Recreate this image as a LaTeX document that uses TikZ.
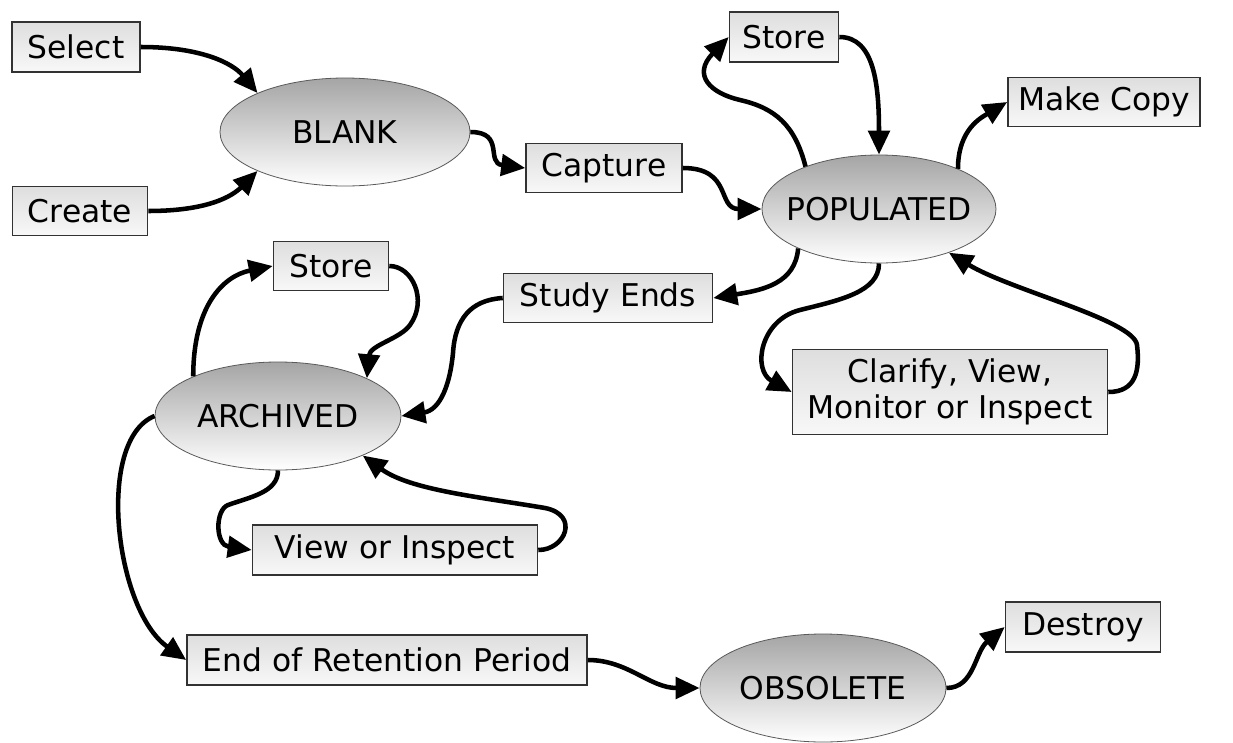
\documentclass[tikz,border=0pt]{standalone}
\usepackage{fontspec}
\setmainfont{DejaVu Sans}
\usetikzlibrary{arrows.meta,shapes.geometric}
\definecolor{boxline}{RGB}{50,50,50}
\definecolor{ovalline}{RGB}{90,90,90}
\definecolor{ovaltop}{RGB}{165,165,165}
\definecolor{boxtop}{RGB}{222,222,222}
\definecolor{boxbot}{RGB}{248,248,248}

\begin{document}
\begin{tikzpicture}[x=0.75pt,y=-0.75pt,
  every node/.style={font=\fontsize{23.5}{27}\selectfont},
  stepbox/.style={draw=boxline, line width=1.2pt, top color=boxtop, bottom color=boxbot,
    inner sep=0pt, align=center},
  state/.style={ellipse, draw=ovalline, line width=0.6pt, top color=ovaltop, bottom color=white,
    inner sep=0pt, minimum width=184.5pt, minimum height=81pt},
  arr/.style={line width=3.4pt, -{Triangle[length=18pt,width=16pt]}},
]
\fill[white] (0,0) rectangle (1233,743);
\useasboundingbox (0,0) rectangle (1233,743);

% states
\node[state, minimum width=187.5pt] (blank) at (345,132) {\makebox[0pt]{BLANK}};
\node[state, minimum width=175.5pt] (pop) at (879,209) {\makebox[0pt]{POPULATED}};
\node[state] (arc) at (278,416) {\makebox[0pt]{ARCHIVED}};
\node[state] (obs) at (823,688) {\makebox[0pt]{OBSOLETE}};

% actions
\node[stepbox, minimum width=96pt, minimum height=37.5pt] (sel) at (76,47) {Select};
\node[stepbox, minimum width=101.25pt, minimum height=36.75pt] (cre) at (80,211) {Create};
\node[stepbox, minimum width=117pt, minimum height=36.75pt] (cap) at (604,168) {Capture};
\node[stepbox, minimum width=81.75pt, minimum height=37.5pt] (st1) at (784,37) {Store};
\node[stepbox, minimum width=144pt, minimum height=36.75pt] (mc) at (1104,102) {Make Copy};
\node[stepbox, minimum width=236.25pt, minimum height=63.75pt] (cl) at (950,392) {Clarify, View,\\Monitor or Inspect};
\node[stepbox, minimum width=156.75pt, minimum height=36.75pt] (se) at (608,298) {Study Ends};
\node[stepbox, minimum width=86.25pt, minimum height=36.75pt] (st2) at (331,266) {Store};
\node[stepbox, minimum width=213.75pt, minimum height=37.5pt] (vi) at (395,550) {View or Inspect};
\node[stepbox, minimum width=300pt, minimum height=37.5pt] (eor) at (387,660) {End of Retention Period};
\node[stepbox, minimum width=116.25pt, minimum height=37.5pt] (des) at (1083,627) {Destroy};

% transitions
\draw[arr] (sel.east) .. controls +(60,0) and +(-25,-30) .. (blank.156);
\draw[arr] (cre.east) .. controls +(60,0) and +(-25,25) .. (blank.204);
\draw[arr] (blank.east) .. controls +(35,0) and +(-40,-5) .. (cap.west);
\draw[arr] (cap.east) .. controls +(50,0) and +(-45,0) .. (pop.west);
\draw[arr] (pop.150) .. controls (795,125) and (775,108) .. (740,100)
  .. controls (710,93) and (692,75) .. (st1.west);
\draw[arr] (st1.east) .. controls +(35,0) and +(0,-70) .. (pop.north);
\draw[arr] (pop.27) .. controls +(0,-40) and +(-25,15) .. (mc.west);
\draw[arr] (pop.206) .. controls +(-3,35) and +(50,-8) .. (se.east);
\draw[arr] (pop.south) .. controls (879,292) and (840,300) .. (800,310)
  .. controls (760,320) and (752,370) .. (cl.west);
\draw[arr] (cl.east) .. controls +(28,0) and (1140,370) .. (1137,345)
  .. controls (1134,320) and (1010,290) .. (pop.-32);
\draw[arr] (se.west) .. controls (470,300) and (455,320) .. (453,353)
  .. controls (450,385) and (440,410) .. (arc.east);
\draw[arr] (arc.155) .. controls +(0,-70) and +(-50,10) .. (st2.west);
\draw[arr] (st2.east) .. controls +(23,0) and (428,300) .. (410,325)
  .. controls (400,339) and (370,345) .. (arc.23);
\draw[arr] (arc.south) .. controls +(0,22) and (250,497) .. (228,505)
  .. controls (215,510) and (215,545) .. (vi.west);
\draw[arr] (vi.east) .. controls +(27,0) and (580,515) .. (545,508)
  .. controls (480,497) and (410,490) .. (arc.-25);
\draw[arr] (arc.west) .. controls (95,440) and (115,610) .. (eor.west);
\draw[arr] (eor.east) .. controls +(40,0) and +(-50,0) .. (obs.west);
\draw[arr] (obs.east) .. controls +(28,0) and +(-30,25) .. (des.west);
\end{tikzpicture}
\end{document}
